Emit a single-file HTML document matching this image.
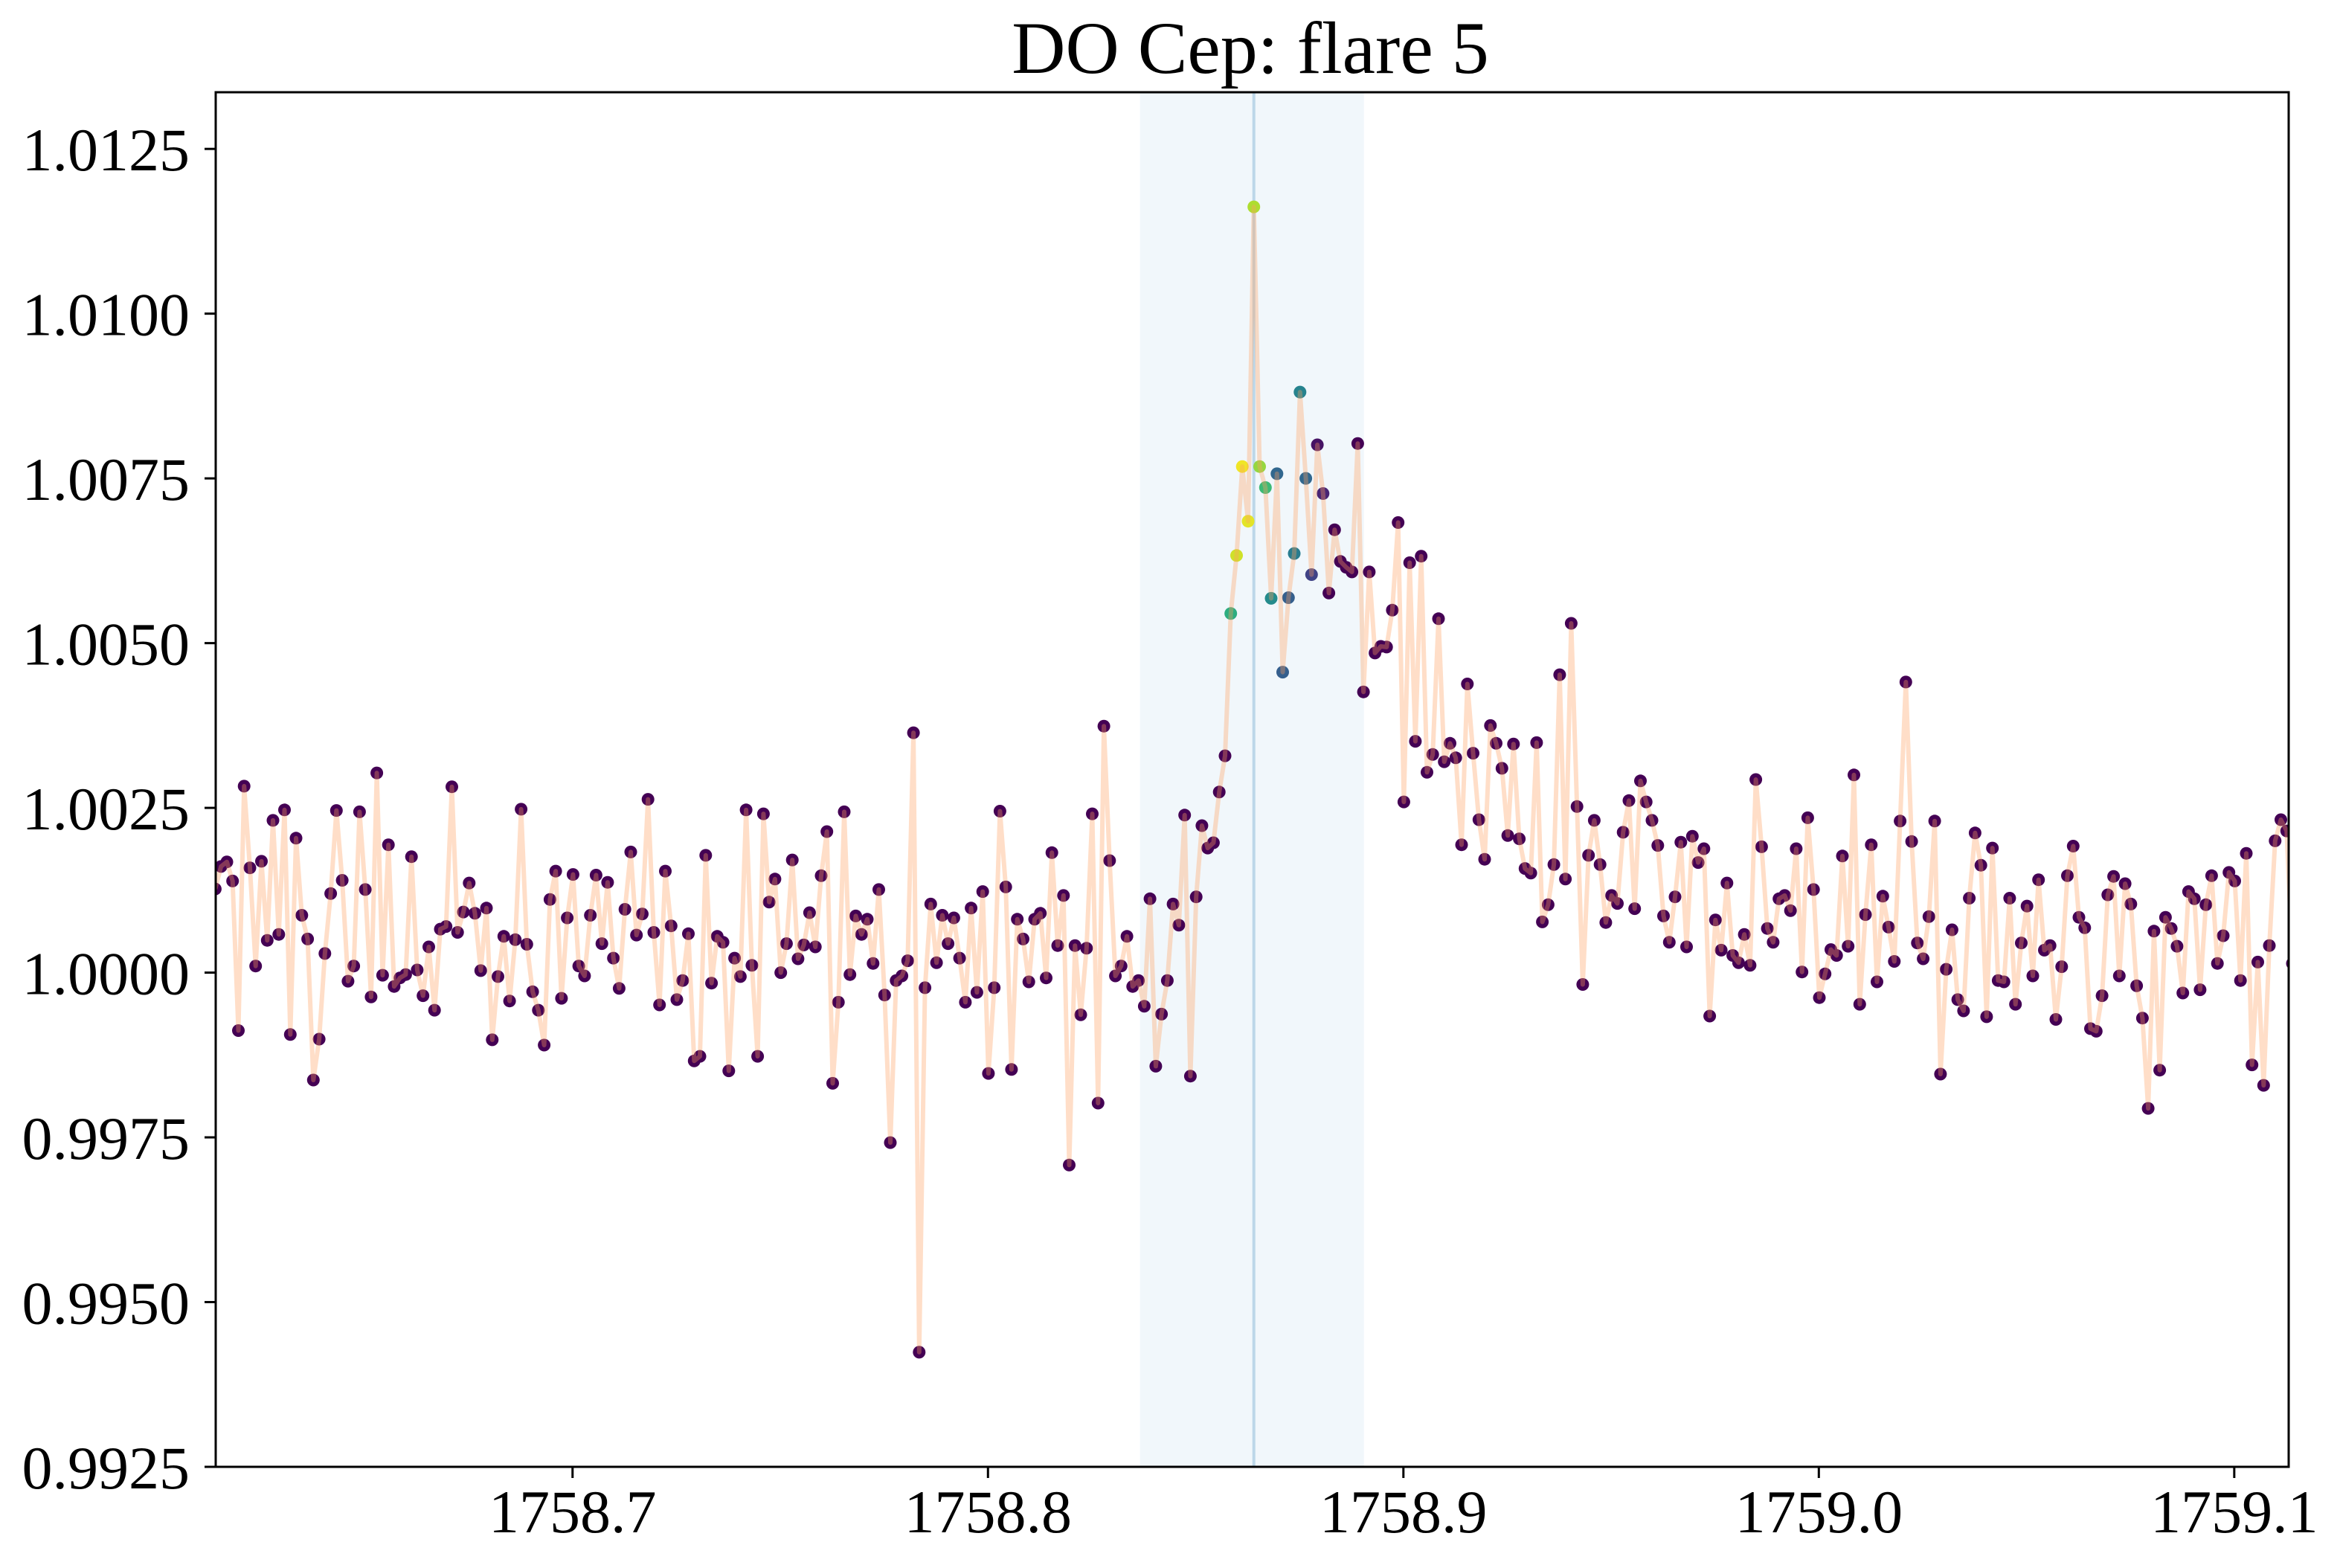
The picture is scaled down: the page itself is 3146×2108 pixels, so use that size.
<!DOCTYPE html>
<html><head><meta charset="utf-8"><title>DO Cep: flare 5</title>
<style>html,body{margin:0;padding:0;background:#fff;}svg{display:block;font-family:"Liberation Serif","Times New Roman",serif;}</style>
</head><body>
<svg id="chart" width="3146" height="2108" viewBox="0 0 3146 2108" xmlns="http://www.w3.org/2000/svg">
<rect width="3146" height="2108" fill="#fff"/>
<text x="1681" y="98" font-size="100" text-anchor="middle">DO Cep: flare 5</text>
<g id="plot"></g>
</svg>
<script>
const preFlare = [1.00127,1.00161,1.00168,1.00139,0.99912,1.00283,1.00159,1.00010,1.00169,1.00049,1.00231,1.00058,1.00247,0.99906,1.00204,1.00087,1.00051,0.99837,0.99899,1.00029,1.00120,1.00246,1.00140,0.99987,1.00010,1.00244,1.00126,0.99963,1.00303,0.99996,1.00194,0.99979,0.99992,0.99997,1.00176,1.00004,0.99965,1.00039,0.99943,1.00066,1.00070,1.00282,1.00061,1.00092,1.00136,1.00090,1.00003,1.00098,0.99898,0.99994,1.00055,0.99957,1.00050,1.00248,1.00043,0.99971,0.99943,0.99890,1.00111,1.00154,0.99961,1.00083,1.00149,1.00010,0.99995,1.00087,1.00148,1.00044,1.00137,1.00022,0.99976,1.00096,1.00183,1.00057,1.00089,1.00263,1.00061,0.99951,1.00154,1.00071,0.99959,0.99988,1.00059,0.99866,0.99873,1.00178,0.99984,1.00055,1.00046,0.99851,1.00022,
0.99994,1.00247,1.00011,0.99873,1.00241,1.00107,1.00142,1.00000,1.00044,1.00171,1.00021,1.00042,1.00091,1.00039,1.00147,1.00214,0.99832,0.99955,1.00244,0.99997,1.00086,1.00058,1.00081,1.00014,1.00126,0.99966,0.99742,0.99988,0.99995,1.00018,1.00364,0.99424,0.99977,1.00104,1.00015,1.00087,1.00044,1.00083,1.00022,0.99955,1.00098,0.99970,1.00123,0.99847,0.99977,1.00245,1.00130,0.99853,1.00081,1.00051,0.99986,1.00081,1.00090,0.99992,1.00182,1.00041,1.00117,0.99708,1.00041,0.99936,1.00037,1.00241,0.99802,1.00374,1.00170,0.99995,1.00010,1.00055,0.99979,0.99988,0.99949,1.00112,0.99858,0.99937,0.99988,1.00104,1.00072,1.00239,0.99843,1.00115,1.00223,1.00189,1.00197,1.00274,1.00329];
const flare = [1.00545,1.00633,1.00768,1.00685,1.01162,1.00768,1.00736,1.00568,1.00757,1.00456,1.00569,1.00636,1.00881,1.00750,1.00604,1.00801,1.00727,1.00576,1.00672,1.00624,1.00615,1.00608,1.00803,1.00426,1.00608,1.00485,1.00495];
const flareColor = [0.62,0.93,0.98,0.96,0.88,0.84,0.68,0.48,0.33,0.3,0.3,0.42,0.45,0.33,0.2,0.05,0.1,0,0,0,0,0,0,0,0,0,0];
const postFlare = [1.00494,1.00550,1.00683,1.00259,1.00622,1.00351,1.00632,1.00304,1.00331,1.00537,1.00320,1.00348,1.00326,1.00194,1.00438,1.00333,1.00232,1.00172,1.00375,1.00348,1.00310,1.00208,1.00347,1.00203,1.00158,1.00151,1.00349,1.00077,1.00103,1.00164,1.00452,1.00142,1.00530,1.00252,0.99982,1.00178,
1.00231,1.00164,1.00076,1.00117,1.00105,1.00213,1.00261,1.00097,1.00291,1.00259,1.00231,1.00193,1.00086,1.00046,1.00115,1.00198,1.00039,1.00207,1.00167,1.00188,0.99934,1.00080,1.00034,1.00136,1.00026,1.00015,1.00058,1.00011,1.00293,1.00191,1.00067,1.00046,1.00112,1.00117,1.00094,1.00188,1.00001,1.00235,1.00126,0.99962,0.99998,1.00035,1.00026,1.00177,1.00040,1.00300,0.99952,1.00088,1.00194,0.99986,1.00116,1.00069,1.00017,1.00230,1.00441,1.00199,1.00045,1.00021,1.00085,
1.00230,0.99846,1.00005,1.00065,0.99959,0.99942,1.00113,1.00212,1.00163,0.99933,1.00189,0.99988,0.99986,1.00113,0.99952,1.00045,1.00101,0.99995,1.00141,1.00034,1.00041,0.99929,1.00009,1.00147,1.00192,1.00084,1.00068,0.99915,0.99911,0.99965,1.00118,1.00146,0.99995,1.00135,1.00104,0.99980,0.99931,0.99794,1.00063,0.99852,1.00084,1.00067,1.00040,0.99969,1.00123,1.00112,0.99974,1.00103,1.00147,1.00014,1.00056,1.00152,1.00139,0.99988,1.00181,0.99860,1.00016,0.99829,1.00041,1.00200,1.00232,1.00215,1.00014];
const startTime = 1758.6140;
const cadence = 0.0013889;
const flareWindow = [1758.8366, 1758.8905];
const peakTime = 1758.8640;
const xTicks = [1758.7, 1758.8, 1758.9, 1759.0, 1759.1];
const xTickLabels = ["1758.7", "1758.8", "1758.9", "1759.0", "1759.1"];
const yTicks = [0.9925, 0.9950, 0.9975, 1.0000, 1.0025, 1.0050, 1.0075, 1.0100, 1.0125];
const yTickLabels = ["0.9925", "0.9950", "0.9975", "1.0000", "1.0025", "1.0050", "1.0075", "1.0100", "1.0125"];

const L = 290, R = 3077, T = 124, B = 1972;
const xMin = 1758.6141, xMax = 1759.1131, yMin = 0.9925, yMax = 1.01336;
function xs(t) { return L + (t - xMin) / (xMax - xMin) * (R - L); }
function ys(v) { return B - (v - yMin) / (yMax - yMin) * (B - T); }
function viridis(c) {
  const st = [[68,1,84],[72,40,120],[62,74,137],[49,104,142],[38,130,142],[31,158,137],[53,183,121],[109,205,89],[180,222,44],[253,231,37]];
  const p = Math.max(0, Math.min(1, c)) * (st.length - 1);
  const i = Math.min(st.length - 2, Math.floor(p)), f = p - i;
  const m = st[i].map((a, k) => Math.round(a + (st[i + 1][k] - a) * f));
  return "rgb(" + m.join(",") + ")";
}
const NS = "http://www.w3.org/2000/svg";
const plot = document.getElementById("plot");
function mk(tag, attrs, parent) {
  const e = document.createElementNS(NS, tag);
  for (const k in attrs) e.setAttribute(k, attrs[k]);
  (parent || plot).appendChild(e);
  return e;
}
const flux = preFlare.concat(flare, postFlare);
const colorVal = preFlare.map(() => 0).concat(flareColor, postFlare.map(() => 0));
const times = flux.map((v, i) => startTime + i * cadence);

const clip = mk("clipPath", {id: "clipAx"});
mk("rect", {x: L, y: T, width: R - L, height: B - T}, clip);
const body = mk("g", {"clip-path": "url(#clipAx)"});



const span = mk("rect", {x: xs(flareWindow[0]), y: T, width: xs(flareWindow[1]) - xs(flareWindow[0]), height: B - T, fill: "#f1f7fb"}, body);


const vl = mk("line", {x1: xs(peakTime), x2: xs(peakTime), y1: T, y2: B, stroke: "#bcd7e9", "stroke-width": 4}, body);



const pts = mk("g", {}, body);


flux.forEach((v, i) => {
  const c = mk("circle", {cx: xs(times[i]).toFixed(1), cy: ys(v).toFixed(1), r: 8.5, fill: viridis(colorVal[i])}, pts);
  
  
});
const d = flux.map((v, i) => (i ? "L" : "M") + xs(times[i]).toFixed(1) + "," + ys(v).toFixed(1)).join("");
const line = mk("path", {d: d, fill: "none", stroke: "#ffa060", "stroke-opacity": 0.35, "stroke-width": 6, "stroke-linejoin": "round"}, body);



const frame = mk("rect", {x: L, y: T, width: R - L, height: B - T, fill: "none", stroke: "#000", "stroke-width": 3});



yTicks.forEach((v, i) => {
  const y = ys(v);
  const tk = mk("line", {x1: L - 15, x2: L, y1: y, y2: y, stroke: "#000", "stroke-width": 3});
  
  
  const tx = mk("text", {x: 255, y: y + 29, "font-size": 82, "text-anchor": "end"});
  tx.textContent = yTickLabels[i];
  
  
});
xTicks.forEach((v, i) => {
  const x = xs(v);
  const tk = mk("line", {x1: x, x2: x, y1: B, y2: B + 15, stroke: "#000", "stroke-width": 3});
  
  
  const tx = mk("text", {x: x, y: 2060, "font-size": 82, "text-anchor": "middle"});
  tx.textContent = xTickLabels[i];
  
  
});
</script>
</body></html>
